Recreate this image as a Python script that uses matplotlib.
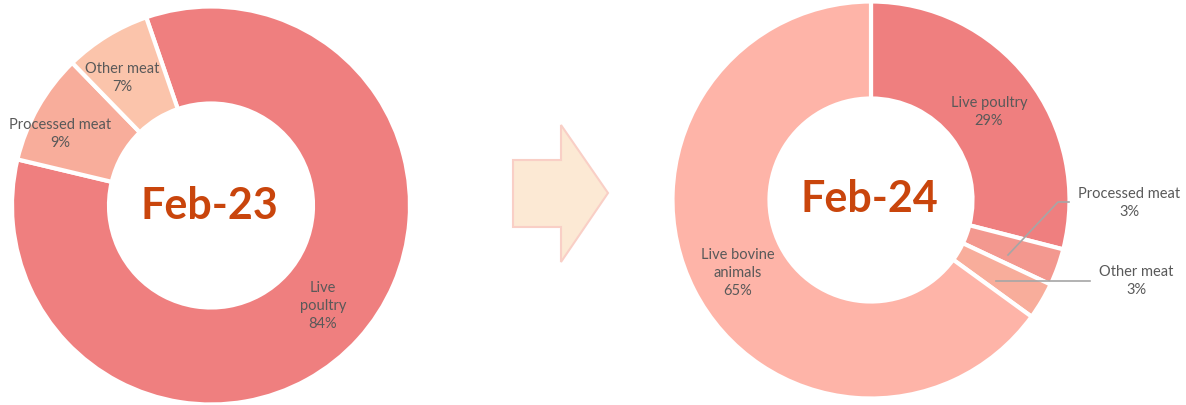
import matplotlib.pyplot as plt
from matplotlib.patches import Polygon

# data
left_title = "Feb-23"
left_labels = ["Live\npoultry", "Processed meat", "Other meat"]
left_values = [84, 9, 7]

right_title = "Feb-24"
right_labels = ["Live poultry", "Processed meat", "Other meat", "Live bovine\nanimals"]
right_values = [29, 3, 3, 65]

left_colors = ["#EF7F7F", "#F8AD9B", "#FBC4AB"]
right_colors = ["#EF7F7F", "#F3988F", "#F8AD9B", "#FEB4A8"]

W, H = 1186, 405
LABEL_COL = "#595959"
TITLE_COL = "#C9450C"
FONT = ["Lato", "DejaVu Sans"]


def main():
    fig = plt.figure(figsize=(W / 100, H / 100), dpi=100)
    ax = fig.add_axes([0, 0, 1, 1])

    wedge = dict(width=97, edgecolor="white", linewidth=3)

    # left donut (pixel coords, y flipped)
    ax.pie(left_values, colors=left_colors, startangle=109, counterclock=False,
           center=(211, H - 205.5), radius=199, wedgeprops=wedge, frame=True)
    # right donut
    ax.pie(right_values, colors=right_colors, startangle=90, counterclock=False,
           center=(871, H - 200), radius=198.5, wedgeprops=wedge, frame=True)

    ax.set_xlim(0, W)
    ax.set_ylim(0, H)
    ax.set_aspect("auto")
    ax.axis("off")

    def lab(x, y, s):
        ax.text(x, H - y, s, ha="center", va="center", fontsize=10.5,
                color=LABEL_COL, family=FONT, linespacing=1.4)

    # left labels
    lab(323, 306, f"{left_labels[0]}\n{left_values[0]}%")
    lab(60, 134, f"{left_labels[1]}\n{left_values[1]}%")
    lab(122, 78, f"{left_labels[2]}\n{left_values[2]}%")

    # right labels
    lab(989, 112, f"{right_labels[0]}\n{right_values[0]}%")
    lab(1129, 203, f"{right_labels[1]}\n{right_values[1]}%")
    lab(1136, 281, f"{right_labels[2]}\n{right_values[2]}%")
    lab(738, 273, f"{right_labels[3]}\n{right_values[3]}%")

    # leader lines
    ax.plot([1008, 1058, 1069], [H - 255, H - 202, H - 202], color="#A6A6A6", lw=1.2)
    ax.plot([996, 1090], [H - 281, H - 281], color="#A6A6A6", lw=1.2)

    # centre titles
    ax.text(209, H - 206, left_title, ha="center", va="center", fontsize=31,
            fontweight="bold", color=TITLE_COL, family=FONT)
    ax.text(869, H - 199, right_title, ha="center", va="center", fontsize=31,
            fontweight="bold", color=TITLE_COL, family=FONT)

    # arrow between the charts
    arrow = [(513, 160), (561, 160), (561, 125), (608, 193),
             (561, 262), (561, 227), (513, 227)]
    ax.add_patch(Polygon([(x, H - y) for x, y in arrow], closed=True,
                         facecolor="#FCE9D4", edgecolor="#F9CFC6", lw=1.5))

    fig.savefig("out.png", dpi=100)


if __name__ == "__main__":
    main()
